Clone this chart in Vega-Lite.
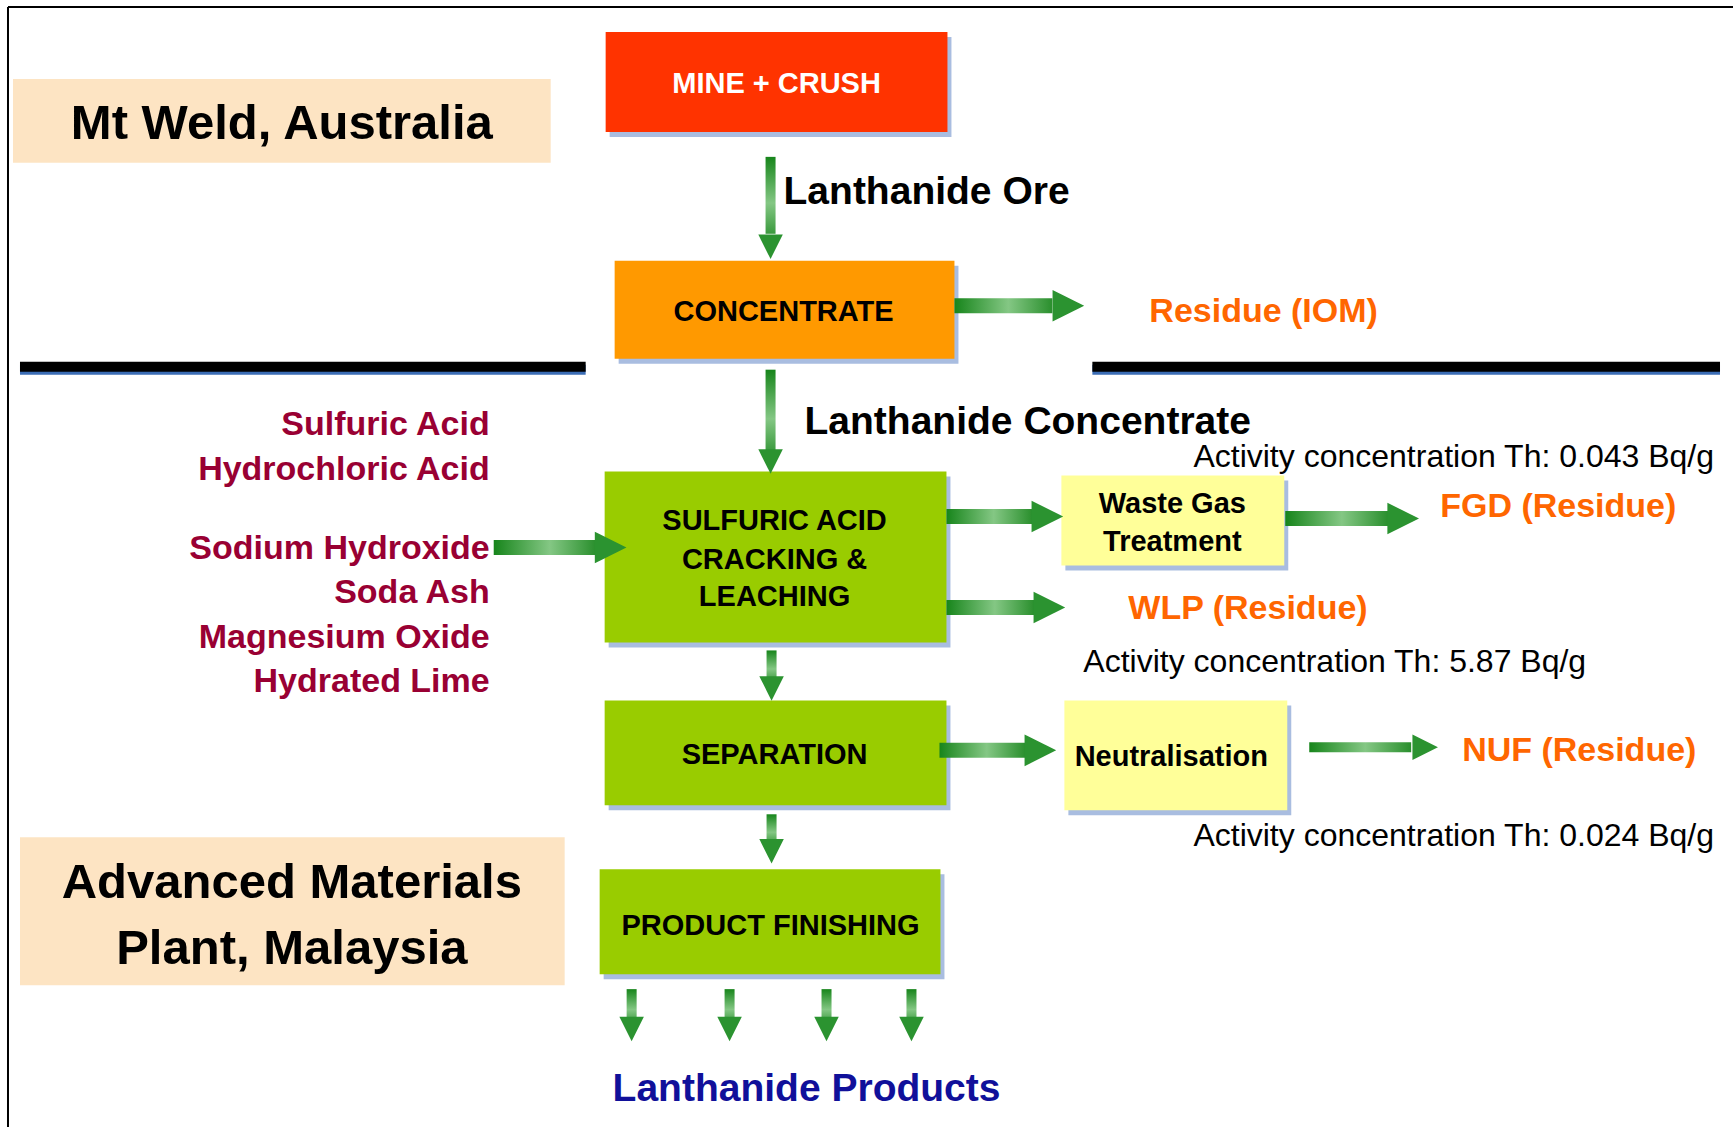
{
  "$schema": "https://vega.github.io/schema/vega-lite/v6.json",
  "width": 1734,
  "height": 1128,
  "autosize": {"type": "fit", "contains": "padding"},
  "padding": 0,
  "background": "white",
  "config": {"view": {"stroke": null}, "axis": {"disable": true}, "text": {"dy": 2}},
  "datasets": {
    "boxes": [
      {"name": "mine", "kind": "mine", "x": 606, "x2": 948, "y": 32, "y2": 132},
      {"name": "conc", "kind": "conc", "x": 615, "x2": 955, "y": 261, "y2": 359},
      {"name": "sulf", "kind": "process", "x": 605, "x2": 947, "y": 472, "y2": 643},
      {"name": "sep", "kind": "process", "x": 605, "x2": 947, "y": 701, "y2": 806},
      {"name": "prod", "kind": "process", "x": 600, "x2": 941, "y": 870, "y2": 975},
      {"name": "wgt", "kind": "aux", "x": 1062, "x2": 1285, "y": 476, "y2": 566},
      {"name": "neut", "kind": "aux", "x": 1065, "x2": 1288, "y": 701, "y2": 811},
      {"name": "mtweld", "kind": "site", "x": 13, "x2": 551, "y": 79, "y2": 163},
      {"name": "amp", "kind": "site", "x": 20, "x2": 565, "y": 838, "y2": 986}
    ],
    "frame": [
      {"x": 8, "x2": 1734, "y": 7, "y2": 7},
      {"x": 8, "x2": 8, "y": 7, "y2": 1128}
    ],
    "dividers": [
      {"x": 20, "x2": 586, "y": 367},
      {"x": 1093, "x2": 1721, "y": 367}
    ],
    "hthick": [
      {"x0": 955, "x1": 1053, "y": 306, "hx": 1069},
      {"x0": 494, "x1": 596, "y": 548, "hx": 611},
      {"x0": 947, "x1": 1033, "y": 517, "hx": 1048},
      {"x0": 947, "x1": 1035, "y": 608, "hx": 1050},
      {"x0": 1286, "x1": 1389, "y": 519, "hx": 1404},
      {"x0": 940, "x1": 1026, "y": 751, "hx": 1041}
    ],
    "hthin": [
      {"x0": 1310, "x1": 1412, "y": 748, "hx": 1426}
    ],
    "vert": [
      {"x": 771, "y0": 157, "y1": 234, "hy": 247},
      {"x": 771, "y0": 370, "y1": 452, "hy": 462},
      {"x": 772, "y0": 651, "y1": 682, "hy": 689},
      {"x": 772, "y0": 815, "y1": 845, "hy": 852},
      {"x": 632, "y0": 990, "y1": 1024, "hy": 1030},
      {"x": 730, "y0": 990, "y1": 1024, "hy": 1030},
      {"x": 827, "y0": 990, "y1": 1024, "hy": 1030},
      {"x": 912, "y0": 990, "y1": 1024, "hy": 1030}
    ],
    "texts": [
      {"role": "white", "t": "MINE + CRUSH", "x": 777, "y": 82},
      {"role": "box", "t": "CONCENTRATE", "x": 784, "y": 310},
      {"role": "box", "t": "SULFURIC ACID", "x": 775, "y": 519},
      {"role": "box", "t": "CRACKING &", "x": 775, "y": 558},
      {"role": "box", "t": "LEACHING", "x": 775, "y": 596},
      {"role": "box", "t": "SEPARATION", "x": 775, "y": 754},
      {"role": "box", "t": "PRODUCT FINISHING", "x": 771, "y": 925},
      {"role": "box", "t": "Waste Gas", "x": 1173, "y": 502},
      {"role": "box", "t": "Treatment", "x": 1173, "y": 540},
      {"role": "box", "t": "Neutralisation", "x": 1172, "y": 756},
      {"role": "title", "t": "Mt Weld, Australia", "x": 282, "y": 122},
      {"role": "title", "t": "Advanced Materials", "x": 292, "y": 882},
      {"role": "title", "t": "Plant, Malaysia", "x": 292, "y": 948},
      {"role": "flow", "t": "Lanthanide Ore", "x": 784, "y": 190},
      {"role": "flow", "t": "Lanthanide Concentrate", "x": 805, "y": 420},
      {"role": "chem", "t": "Sulfuric Acid", "x": 490, "y": 423},
      {"role": "chem", "t": "Hydrochloric Acid", "x": 490, "y": 468},
      {"role": "chem", "t": "Sodium Hydroxide", "x": 490, "y": 547},
      {"role": "chem", "t": "Soda Ash", "x": 490, "y": 592},
      {"role": "chem", "t": "Magnesium Oxide", "x": 490, "y": 637},
      {"role": "chem", "t": "Hydrated Lime", "x": 490, "y": 681},
      {"role": "residue", "t": "Residue (IOM)", "x": 1150, "y": 310},
      {"role": "residue", "t": "FGD (Residue)", "x": 1441, "y": 505},
      {"role": "residue", "t": "WLP (Residue)", "x": 1129, "y": 608},
      {"role": "residue", "t": "NUF (Residue)", "x": 1463, "y": 750},
      {"role": "actR", "t": "Activity concentration Th: 0.043 Bq/g", "x": 1715, "y": 455},
      {"role": "actR", "t": "Activity concentration Th: 0.024 Bq/g", "x": 1715, "y": 835},
      {"role": "actL", "t": "Activity concentration Th: 5.87 Bq/g", "x": 1084, "y": 661},
      {"role": "products", "t": "Lanthanide Products", "x": 807, "y": 1088}
    ]
  },
  "layer": [
    {
      "data": {"name": "frame"},
      "mark": {"type": "rule", "color": "#000000", "strokeWidth": 2},
      "encoding": {
        "x": {"field": "x", "type": "quantitative", "scale": {"domain": [0, 1734], "nice": false, "zero": false}, "axis": null},
        "x2": {"field": "x2"},
        "y": {"field": "y", "type": "quantitative", "scale": {"domain": [0, 1128], "nice": false, "zero": false, "reverse": true}, "axis": null},
        "y2": {"field": "y2"}
      }
    },
    {
      "data": {"name": "boxes"},
      "transform": [{"filter": "datum.kind !== 'site'"}],
      "mark": {"type": "rect", "color": "#A9BDE0", "xOffset": 4, "x2Offset": 4, "yOffset": 5, "y2Offset": 5},
      "encoding": {
        "x": {"field": "x", "type": "quantitative", "scale": {"domain": [0, 1734], "nice": false, "zero": false}, "axis": null},
        "x2": {"field": "x2"},
        "y": {"field": "y", "type": "quantitative", "scale": {"domain": [0, 1128], "nice": false, "zero": false, "reverse": true}, "axis": null},
        "y2": {"field": "y2"}
      }
    },
    {
      "data": {"name": "boxes"},
      "mark": {"type": "rect"},
      "encoding": {
        "x": {"field": "x", "type": "quantitative", "scale": {"domain": [0, 1734], "nice": false, "zero": false}, "axis": null},
        "x2": {"field": "x2"},
        "y": {"field": "y", "type": "quantitative", "scale": {"domain": [0, 1128], "nice": false, "zero": false, "reverse": true}, "axis": null},
        "y2": {"field": "y2"},
        "color": {"field": "kind", "type": "nominal", "legend": null,
          "scale": {"domain": ["mine", "conc", "process", "aux", "site"], "range": ["#FF3300", "#FF9900", "#99CC00", "#FFFF99", "#FDE4C3"]}}
      }
    },
    {
      "data": {"name": "dividers"},
      "mark": {"type": "rule", "color": "#3B6DB5", "strokeWidth": 10, "yOffset": 3},
      "encoding": {
        "x": {"field": "x", "type": "quantitative", "scale": {"domain": [0, 1734], "nice": false, "zero": false}, "axis": null},
        "x2": {"field": "x2"},
        "y": {"field": "y", "type": "quantitative", "scale": {"domain": [0, 1128], "nice": false, "zero": false, "reverse": true}, "axis": null}
      }
    },
    {
      "data": {"name": "dividers"},
      "mark": {"type": "rule", "color": "#000000", "strokeWidth": 10},
      "encoding": {
        "x": {"field": "x", "type": "quantitative", "scale": {"domain": [0, 1734], "nice": false, "zero": false}, "axis": null},
        "x2": {"field": "x2"},
        "y": {"field": "y", "type": "quantitative", "scale": {"domain": [0, 1128], "nice": false, "zero": false, "reverse": true}, "axis": null}
      }
    },
    {
      "data": {"name": "hthick"},
      "mark": {"type": "rect", "height": 15,
        "color": {"gradient": "linear", "x1": 0, "y1": 0, "x2": 1, "y2": 0,
          "stops": [{"offset": 0, "color": "#17851b"}, {"offset": 0.55, "color": "#84c784"}, {"offset": 1, "color": "#2a8f2d"}]}},
      "encoding": {
        "x": {"field": "x0", "type": "quantitative", "scale": {"domain": [0, 1734], "nice": false, "zero": false}, "axis": null},
        "x2": {"field": "x1"},
        "y": {"field": "y", "type": "quantitative", "scale": {"domain": [0, 1128], "nice": false, "zero": false, "reverse": true}, "axis": null}
      }
    },
    {
      "data": {"name": "hthick"},
      "mark": {"type": "point", "shape": "M-1,-1L1,0L-1,1Z", "filled": true, "size": 1000, "color": "#2b9330", "opacity": 1},
      "encoding": {
        "x": {"field": "hx", "type": "quantitative", "scale": {"domain": [0, 1734], "nice": false, "zero": false}, "axis": null},
        "y": {"field": "y", "type": "quantitative", "scale": {"domain": [0, 1128], "nice": false, "zero": false, "reverse": true}, "axis": null}
      }
    },
    {
      "data": {"name": "hthin"},
      "mark": {"type": "rect", "height": 10,
        "color": {"gradient": "linear", "x1": 0, "y1": 0, "x2": 1, "y2": 0,
          "stops": [{"offset": 0, "color": "#17851b"}, {"offset": 0.55, "color": "#84c784"}, {"offset": 1, "color": "#2a8f2d"}]}},
      "encoding": {
        "x": {"field": "x0", "type": "quantitative", "scale": {"domain": [0, 1734], "nice": false, "zero": false}, "axis": null},
        "x2": {"field": "x1"},
        "y": {"field": "y", "type": "quantitative", "scale": {"domain": [0, 1128], "nice": false, "zero": false, "reverse": true}, "axis": null}
      }
    },
    {
      "data": {"name": "hthin"},
      "mark": {"type": "point", "shape": "M-1,-1L1,0L-1,1Z", "filled": true, "size": 650, "color": "#2b9330", "opacity": 1},
      "encoding": {
        "x": {"field": "hx", "type": "quantitative", "scale": {"domain": [0, 1734], "nice": false, "zero": false}, "axis": null},
        "y": {"field": "y", "type": "quantitative", "scale": {"domain": [0, 1128], "nice": false, "zero": false, "reverse": true}, "axis": null}
      }
    },
    {
      "data": {"name": "vert"},
      "mark": {"type": "rect", "width": 10,
        "color": {"gradient": "linear", "x1": 0, "y1": 0, "x2": 0, "y2": 1,
          "stops": [{"offset": 0, "color": "#17851b"}, {"offset": 0.6, "color": "#84c784"}, {"offset": 1, "color": "#3a9a3d"}]}},
      "encoding": {
        "x": {"field": "x", "type": "quantitative", "scale": {"domain": [0, 1734], "nice": false, "zero": false}, "axis": null},
        "y": {"field": "y0", "type": "quantitative", "scale": {"domain": [0, 1128], "nice": false, "zero": false, "reverse": true}, "axis": null},
        "y2": {"field": "y1"}
      }
    },
    {
      "data": {"name": "vert"},
      "mark": {"type": "point", "shape": "M-1,-1L1,-1L0,1Z", "filled": true, "size": 600, "color": "#2b9330", "opacity": 1},
      "encoding": {
        "x": {"field": "x", "type": "quantitative", "scale": {"domain": [0, 1734], "nice": false, "zero": false}, "axis": null},
        "y": {"field": "hy", "type": "quantitative", "scale": {"domain": [0, 1128], "nice": false, "zero": false, "reverse": true}, "axis": null}
      }
    },
    {
      "data": {"name": "texts"},
      "transform": [{"filter": "datum.role === 'white'"}],
      "mark": {"type": "text", "font": "Liberation Sans", "fontWeight": "bold", "fontSize": 29, "color": "#FFFFFF", "align": "center", "baseline": "middle"},
      "encoding": {
        "x": {"field": "x", "type": "quantitative", "scale": {"domain": [0, 1734], "nice": false, "zero": false}, "axis": null},
        "y": {"field": "y", "type": "quantitative", "scale": {"domain": [0, 1128], "nice": false, "zero": false, "reverse": true}, "axis": null},
        "text": {"field": "t"}
      }
    },
    {
      "data": {"name": "texts"},
      "transform": [{"filter": "datum.role === 'box'"}],
      "mark": {"type": "text", "font": "Liberation Sans", "fontWeight": "bold", "fontSize": 29, "color": "#000000", "align": "center", "baseline": "middle"},
      "encoding": {
        "x": {"field": "x", "type": "quantitative", "scale": {"domain": [0, 1734], "nice": false, "zero": false}, "axis": null},
        "y": {"field": "y", "type": "quantitative", "scale": {"domain": [0, 1128], "nice": false, "zero": false, "reverse": true}, "axis": null},
        "text": {"field": "t"}
      }
    },
    {
      "data": {"name": "texts"},
      "transform": [{"filter": "datum.role === 'title'"}],
      "mark": {"type": "text", "font": "Liberation Sans", "fontWeight": "bold", "fontSize": 49, "color": "#000000", "align": "center", "baseline": "middle"},
      "encoding": {
        "x": {"field": "x", "type": "quantitative", "scale": {"domain": [0, 1734], "nice": false, "zero": false}, "axis": null},
        "y": {"field": "y", "type": "quantitative", "scale": {"domain": [0, 1128], "nice": false, "zero": false, "reverse": true}, "axis": null},
        "text": {"field": "t"}
      }
    },
    {
      "data": {"name": "texts"},
      "transform": [{"filter": "datum.role === 'flow'"}],
      "mark": {"type": "text", "font": "Liberation Sans", "fontWeight": "bold", "fontSize": 39, "color": "#000000", "align": "left", "baseline": "middle"},
      "encoding": {
        "x": {"field": "x", "type": "quantitative", "scale": {"domain": [0, 1734], "nice": false, "zero": false}, "axis": null},
        "y": {"field": "y", "type": "quantitative", "scale": {"domain": [0, 1128], "nice": false, "zero": false, "reverse": true}, "axis": null},
        "text": {"field": "t"}
      }
    },
    {
      "data": {"name": "texts"},
      "transform": [{"filter": "datum.role === 'chem'"}],
      "mark": {"type": "text", "font": "Liberation Sans", "fontWeight": "bold", "fontSize": 34, "color": "#990033", "align": "right", "baseline": "middle"},
      "encoding": {
        "x": {"field": "x", "type": "quantitative", "scale": {"domain": [0, 1734], "nice": false, "zero": false}, "axis": null},
        "y": {"field": "y", "type": "quantitative", "scale": {"domain": [0, 1128], "nice": false, "zero": false, "reverse": true}, "axis": null},
        "text": {"field": "t"}
      }
    },
    {
      "data": {"name": "texts"},
      "transform": [{"filter": "datum.role === 'residue'"}],
      "mark": {"type": "text", "font": "Liberation Sans", "fontWeight": "bold", "fontSize": 34, "color": "#FF6600", "align": "left", "baseline": "middle"},
      "encoding": {
        "x": {"field": "x", "type": "quantitative", "scale": {"domain": [0, 1734], "nice": false, "zero": false}, "axis": null},
        "y": {"field": "y", "type": "quantitative", "scale": {"domain": [0, 1128], "nice": false, "zero": false, "reverse": true}, "axis": null},
        "text": {"field": "t"}
      }
    },
    {
      "data": {"name": "texts"},
      "transform": [{"filter": "datum.role === 'actR'"}],
      "mark": {"type": "text", "font": "Liberation Sans", "fontSize": 32, "color": "#000000", "align": "right", "baseline": "middle"},
      "encoding": {
        "x": {"field": "x", "type": "quantitative", "scale": {"domain": [0, 1734], "nice": false, "zero": false}, "axis": null},
        "y": {"field": "y", "type": "quantitative", "scale": {"domain": [0, 1128], "nice": false, "zero": false, "reverse": true}, "axis": null},
        "text": {"field": "t"}
      }
    },
    {
      "data": {"name": "texts"},
      "transform": [{"filter": "datum.role === 'actL'"}],
      "mark": {"type": "text", "font": "Liberation Sans", "fontSize": 32, "color": "#000000", "align": "left", "baseline": "middle"},
      "encoding": {
        "x": {"field": "x", "type": "quantitative", "scale": {"domain": [0, 1734], "nice": false, "zero": false}, "axis": null},
        "y": {"field": "y", "type": "quantitative", "scale": {"domain": [0, 1128], "nice": false, "zero": false, "reverse": true}, "axis": null},
        "text": {"field": "t"}
      }
    },
    {
      "data": {"name": "texts"},
      "transform": [{"filter": "datum.role === 'products'"}],
      "mark": {"type": "text", "font": "Liberation Sans", "fontWeight": "bold", "fontSize": 39, "color": "#10109A", "align": "center", "baseline": "middle"},
      "encoding": {
        "x": {"field": "x", "type": "quantitative", "scale": {"domain": [0, 1734], "nice": false, "zero": false}, "axis": null},
        "y": {"field": "y", "type": "quantitative", "scale": {"domain": [0, 1128], "nice": false, "zero": false, "reverse": true}, "axis": null},
        "text": {"field": "t"}
      }
    }
  ]
}
